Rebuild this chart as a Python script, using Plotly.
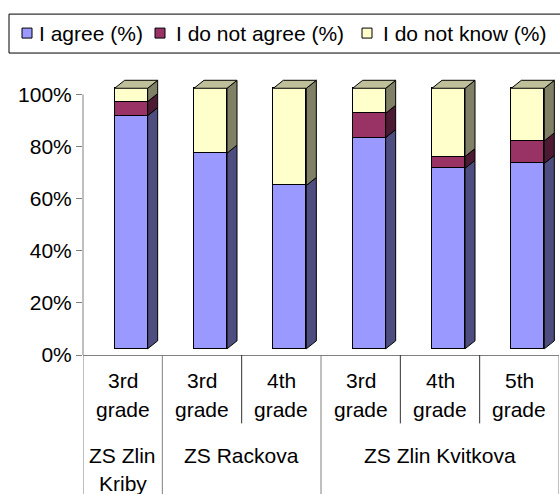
import plotly.graph_objects as go

# ---------------- data ----------------
grade_labels = ["3rd grade", "3rd grade", "4th grade", "3rd grade", "4th grade", "5th grade"]
school_labels = ["ZS Zlin<br>Kriby", "ZS Rackova", "ZS Zlin Kvitkova"]
school_sizes = [1, 2, 3]
series_names = ["I agree (%)", "I do not agree (%)", "I do not know (%)"]
agree = [89.5, 75.1, 62.7, 81.1, 69.3, 71.2]
disagree = [5.4, 0.0, 0.0, 9.3, 4.5, 8.6]
dont_know = [5.1, 24.9, 37.3, 9.6, 26.2, 20.2]
y_tick_values = [0, 20, 40, 60, 80, 100]
y_tick_labels = ["0%", "20%", "40%", "60%", "80%", "100%"]

# ---------------- styles ----------------
front_colors = ["#9999FF", "#993366", "#FFFFCC"]
side_colors = ["#4D4D80", "#4D1A33", "#808066"]
top_color = "#BFBF99"
FONT = "Liberation Sans, Arial, sans-serif"
FS = 21
GRID = "#808080"
DARK = "#303030"

W, H = 560, 494
PL, PR, PT, PB = 83, 559, 75, 355.5
PPU = 2.61                      # pixels per percent
BAR_BASE_PX = 349.3             # front plane zero
n = len(grade_labels)
cat_px = (PR - PL) / n
off = 8.5 / cat_px
bw = 33 / cat_px
dx = 10 / cat_px
dy = 8 / PPU

ytop = (PB - PT) / PPU
shift = (PB - BAR_BASE_PX) / PPU


def py(pix):
    return (PB - pix) / (PB - PT)


def px(pix):
    return (pix - PL) / (PR - PL)


series = [agree, disagree, dont_know]
xs = [i + off for i in range(n)]

fig = go.Figure()
for name, vals, col in zip(series_names, series, front_colors):
    fig.add_trace(go.Bar(
        x=xs, y=vals, width=bw, name=name, yaxis="y2",
        marker=dict(color=col, line=dict(color="black", width=1)),
        hoverinfo="skip", showlegend=False))

# side faces (3D depth) computed from the stacked values
for k, col in enumerate(side_colors):
    sx, sy = [], []
    for i in range(n):
        y0 = sum(series[j][i] for j in range(k))
        y1 = y0 + series[k][i]
        if series[k][i] <= 0:
            continue
        xr = xs[i] + bw / 2
        sx += [xr, xr + dx, xr + dx, xr, xr, None]
        sy += [y0, y0 + dy, y1 + dy, y1, y0, None]
    fig.add_trace(go.Scatter(x=sx, y=sy, yaxis="y2", mode="lines", fill="toself",
                             fillcolor=col, line=dict(color="black", width=1),
                             showlegend=False, hoverinfo="skip"))

tx, ty = [], []
for i in range(n):
    T = agree[i] + disagree[i] + dont_know[i]
    xl = xs[i] - bw / 2
    xr = xs[i] + bw / 2
    tx += [xl, xl + dx, xr + dx, xr, xl, None]
    ty += [T, T + dy, T + dy, T, T, None]
fig.add_trace(go.Scatter(x=tx, y=ty, yaxis="y2", mode="lines", fill="toself",
                         fillcolor=top_color, line=dict(color="black", width=1),
                         showlegend=False, hoverinfo="skip"))

shapes = []
# y axis line from 0 to 100
shapes.append(dict(type="line", xref="paper", yref="y", x0=0, x1=0,
                   y0=y_tick_values[0], y1=y_tick_values[-1],
                   line=dict(color=GRID, width=1)))
# category dividers
group_edges = [-0.5]
acc = -0.5
for s in school_sizes:
    acc += s
    group_edges.append(acc)
for b in range(n + 1):
    xb = b - 0.5
    long = any(abs(xb - g) < 1e-9 for g in group_edges)
    shapes.append(dict(type="line", xref="x", yref="paper", x0=xb, x1=xb,
                       y0=0, y1=py(500) if long else py(424),
                       line=dict(color=GRID if long else DARK, width=1)))

# legend (drawn manually to match the compact legend box)
shapes.append(dict(type="rect", xref="paper", yref="paper", x0=px(9), x1=px(570),
                   y0=py(53), y1=py(14), line=dict(color="black", width=1),
                   fillcolor="white"))
legend_marker_x = [22, 155, 362]
legend_text_x = [37, 174, 381]
annotations = []
for name, col, mx, tx_ in zip(series_names, front_colors, legend_marker_x, legend_text_x):
    shapes.append(dict(type="rect", xref="paper", yref="paper", x0=px(mx), x1=px(mx + 10),
                       y0=py(38), y1=py(28), line=dict(color="black", width=1),
                       fillcolor=col))
    annotations.append(dict(x=px(tx_), y=py(33), xref="paper", yref="paper",
                            text=name, showarrow=False, xanchor="left", yanchor="middle",
                            font=dict(size=FS, color="black", family=FONT)))

for i, lab in enumerate(grade_labels):
    parts = lab.split(" ")
    for j, part in enumerate(parts):
        annotations.append(dict(x=i, y=py(381 + 29 * j), xref="x", yref="paper",
                                text=part, showarrow=False, yanchor="middle",
                                font=dict(size=FS, color="black", family=FONT)))
start = 0
for lab, s in zip(school_labels, school_sizes):
    center = start + (s - 1) / 2
    for j, part in enumerate(lab.split("<br>")):
        annotations.append(dict(x=center, y=py(456 + 28 * j), xref="x", yref="paper",
                                text=part, showarrow=False, yanchor="middle",
                                font=dict(size=FS, color="black", family=FONT)))
    start += s

fig.update_layout(
    width=W, height=H,
    margin=dict(l=PL, r=W - PR, t=PT, b=H - PB, autoexpand=False),
    paper_bgcolor="white", plot_bgcolor="white",
    barmode="stack", bargap=0, showlegend=False,
    font=dict(family=FONT, size=FS, color="black"),
    xaxis=dict(range=[-0.5, n - 0.5], showline=True, linecolor=GRID, linewidth=1,
               showticklabels=False, ticks="", showgrid=False, zeroline=False),
    yaxis=dict(range=[0, ytop], tickvals=y_tick_values, ticktext=y_tick_labels,
               ticks="outside", ticklen=6, tickcolor=GRID, showline=False,
               showgrid=False, zeroline=False, tickfont=dict(size=FS)),
    yaxis2=dict(range=[-shift, ytop - shift], overlaying="y", visible=False),
    shapes=shapes, annotations=annotations,
)

fig.write_html("out.html", config={"displayModeBar": False},
               post_script="document.body.style.margin='0';document.body.style.overflow='hidden';")
